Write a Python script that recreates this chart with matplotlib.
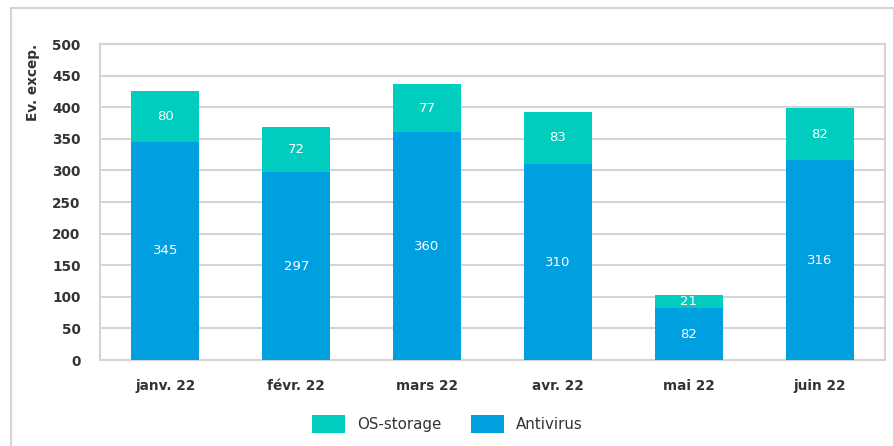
import numpy as np
import matplotlib as mpl
mpl.use('Agg')
import matplotlib.pyplot as plt

months = ["janv. 22", "févr. 22", "mars 22", "avr. 22", "mai 22", "juin 22"]
antivirus = [345, 297, 360, 310, 82, 316]
os_storage = [80, 72, 77, 83, 21, 82]

blue = "#009fdf"
teal = "#00cdbd"
grid_col = "#d4d4d4"
text_col = "#333333"

plt.rcParams['font.family'] = ['DejaVu Sans']

fig = plt.figure(figsize=(8.95, 4.46), dpi=100)
ax = fig.add_axes([0.1117, 0.1928, 0.8771, 0.7085])

# outer frame (left, top, right)
fig.add_artist(plt.Line2D([11/895, 11/895], [0, 1 - 8/446], color=grid_col, lw=1.5, transform=fig.transFigure))
fig.add_artist(plt.Line2D([11/895, 894/895], [1 - 8/446, 1 - 8/446], color=grid_col, lw=1.5, transform=fig.transFigure))
fig.add_artist(plt.Line2D([894/895, 894/895], [0, 1 - 8/446], color=grid_col, lw=1.5, transform=fig.transFigure))

x = np.arange(len(months))
w = 0.52
ax.bar(x, antivirus, w, color=blue, label="Antivirus", zorder=3)
ax.bar(x, os_storage, w, bottom=antivirus, color=teal, label="OS-storage", zorder=3)

for i in range(len(months)):
	ax.text(x[i], antivirus[i] / 2, str(antivirus[i]), color="white", ha="center", va="center", fontsize=9.5, zorder=4)
	ax.text(x[i], antivirus[i] + os_storage[i] / 2, str(os_storage[i]), color="white", ha="center", va="center", fontsize=9.5, zorder=4)

ax.set_xlim(-0.5, len(months) - 0.5)
ax.set_ylim(0, 500)
ax.set_yticks(range(0, 501, 50))
ax.set_xticks(x)
ax.set_xticklabels(months, fontweight="bold", color=text_col, fontsize=9.8)
for t in ax.get_yticklabels():
	t.set_fontweight("bold")
	t.set_color(text_col)
	t.set_fontsize(9.8)
ax.tick_params(length=0, pad=14)
ax.tick_params(axis="x", pad=14)
ax.grid(axis="y", color=grid_col, lw=1.5, zorder=0)
for s in ax.spines.values():
	s.set_color(grid_col)
	s.set_linewidth(1.5)

fig.text(33/895, 1 - 44/446, "Ev. excep.", rotation=90, ha="center", va="top", fontweight="bold", fontsize=9.8, color=text_col)

h, l = ax.get_legend_handles_labels()
fig.legend(h[::-1], l[::-1], loc="center", bbox_to_anchor=(0.5, 1 - 424/446), ncol=2, frameon=False,
	fontsize=10.8, handlelength=2.2, handleheight=1.4, handletextpad=0.8, columnspacing=2.0, labelcolor=text_col)

fig.savefig("out.png", dpi=100)
